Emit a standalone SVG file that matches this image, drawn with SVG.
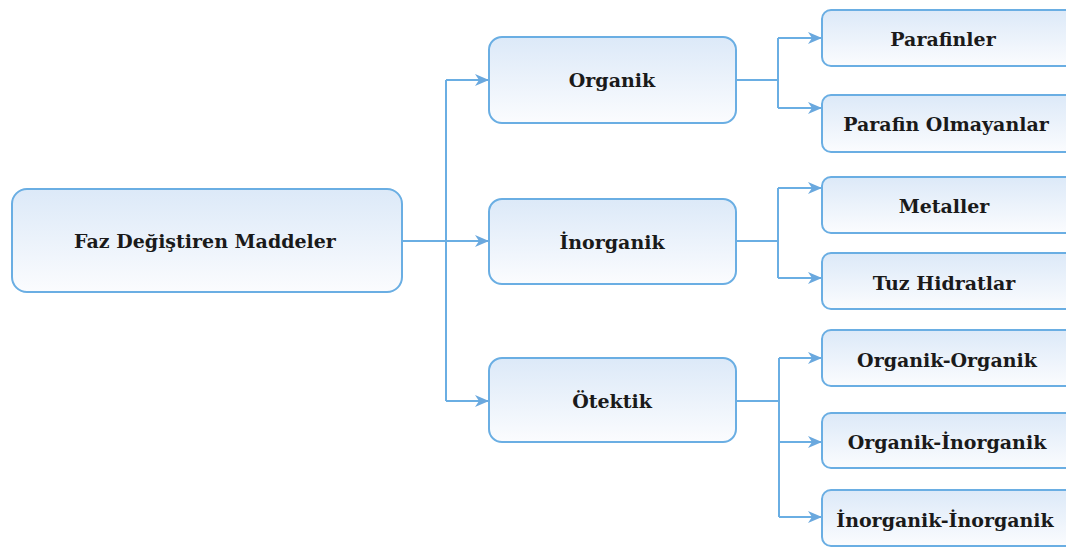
<svg xmlns="http://www.w3.org/2000/svg" width="1066" height="547" viewBox="0 0 1066 547">
<defs>
<linearGradient id="g" x1="0" y1="0" x2="0" y2="1">
<stop offset="0" stop-color="#dce9f8"/>
<stop offset="1" stop-color="#fbfcfe"/>
</linearGradient>
<marker id="ah" viewBox="0 0 14 12" refX="13" refY="6" markerWidth="14" markerHeight="12" markerUnits="userSpaceOnUse" orient="auto">
<path d="M0,0 L14,6 L0,12 L4,6 Z" fill="#6aa8de"/>
</marker>
<style>
.box{fill:url(#g);stroke:#6aaee3;stroke-width:2}
.t{font-family:"DejaVu Serif","Liberation Serif",serif;font-weight:bold;font-size:19px;fill:#1a1a1a;text-anchor:middle;dominant-baseline:central}
.c{fill:none;stroke:#6aaee3;stroke-width:2}
</style>
</defs>
<rect width="1066" height="547" fill="#ffffff"/>
<g id="connectors">
<path class="c" d="M402,241 H446"/>
<path class="c" d="M446,80 V401"/>
<path class="c" d="M446,80 H488" marker-end="url(#ah)"/>
<path class="c" d="M446,241 H488" marker-end="url(#ah)"/>
<path class="c" d="M446,401 H488" marker-end="url(#ah)"/>
<path class="c" d="M736,80 H778"/>
<path class="c" d="M778,38 V108"/>
<path class="c" d="M778,38 H821" marker-end="url(#ah)"/>
<path class="c" d="M778,108 H821" marker-end="url(#ah)"/>
<path class="c" d="M736,241 H778"/>
<path class="c" d="M778,188 V278"/>
<path class="c" d="M778,188 H821" marker-end="url(#ah)"/>
<path class="c" d="M778,278 H821" marker-end="url(#ah)"/>
<path class="c" d="M736,401 H779"/>
<path class="c" d="M779,358 V517"/>
<path class="c" d="M779,358 H821" marker-end="url(#ah)"/>
<path class="c" d="M779,442 H821" marker-end="url(#ah)"/>
<path class="c" d="M779,517 H821" marker-end="url(#ah)"/>
</g>
<g id="root"><rect class="box" x="12" y="189" width="390" height="103" rx="15"/><text class="t" x="205" y="241">Faz Değiştiren Maddeler</text></g>
<g id="organik"><rect class="box" x="489" y="37" width="247" height="86" rx="13"/><text class="t" x="612" y="80">Organik</text></g>
<g id="inorganik"><rect class="box" x="489" y="199" width="247" height="85" rx="13"/><text class="t" x="612" y="242">İnorganik</text></g>
<g id="otektik"><rect class="box" x="489" y="358" width="247" height="84" rx="13"/><text class="t" x="612" y="401">Ötektik</text></g>
<g id="parafinler"><rect class="box" x="822" y="10" width="260" height="56" rx="9"/><text class="t" x="943" y="39">Parafinler</text></g>
<g id="parafin-olmayanlar"><rect class="box" x="822" y="95" width="260" height="57" rx="9"/><text class="t" x="946" y="124">Parafin Olmayanlar</text></g>
<g id="metaller"><rect class="box" x="822" y="177" width="260" height="56" rx="9"/><text class="t" x="944" y="206">Metaller</text></g>
<g id="tuz-hidratlar"><rect class="box" x="822" y="253" width="260" height="56" rx="9"/><text class="t" x="944" y="283">Tuz Hidratlar</text></g>
<g id="organik-organik"><rect class="box" x="822" y="330" width="260" height="56" rx="9"/><text class="t" x="947" y="360">Organik-Organik</text></g>
<g id="organik-inorganik"><rect class="box" x="822" y="413" width="260" height="55" rx="9"/><text class="t" x="947" y="442">Organik-İnorganik</text></g>
<g id="inorganik-inorganik"><rect class="box" x="822" y="490" width="260" height="56" rx="9"/><text class="t" x="945" y="520">İnorganik-İnorganik</text></g>
</svg>
